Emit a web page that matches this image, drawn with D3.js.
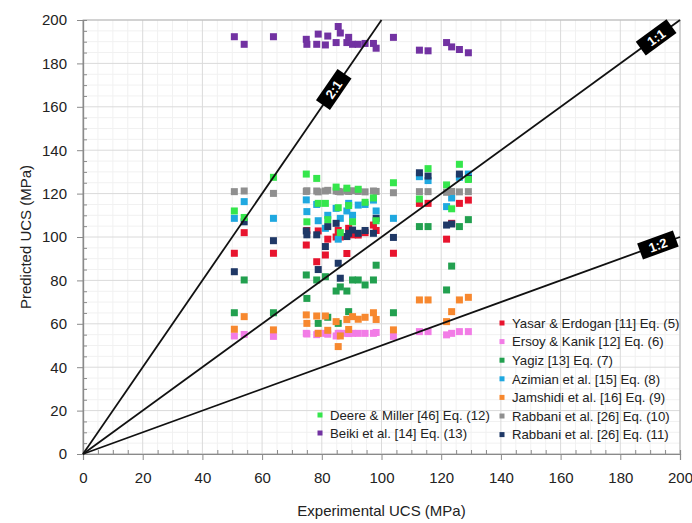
<!DOCTYPE html>
<html>
<head>
<meta charset="utf-8">
<script src="https://cdn.jsdelivr.net/npm/d3@7"></script>
<style>
  body { margin: 0; background: #fff; }
  svg { display: block; }
  text { font-family: "Liberation Sans", Arial, sans-serif; }
</style>
</head>
<body>
<svg id="chart" width="692" height="523"></svg>
<script>
// experimental UCS of the specimens (MPa)
var experimental = [50.7, 54.0, 63.8, 74.8, 75.0, 78.3, 78.8, 81.2, 82.0, 84.8, 85.5, 86.2, 88.4,
  89.0, 90.3, 92.2, 94.5, 97.3, 98.2, 104.0, 112.7, 115.6, 121.8, 123.5, 126.1, 129.1];

// predicted UCS per model, one value per specimen
var yasar    = [92.5, 102, 92.5, 96.3, 103, 88.6, 102.8, 91.7, 99, 100, 103, 100, 92.4,
  104, 101, 100.9, 102, 105.5, 103, 92.5, 115.5, 115.5, 99, 106.3, 115.5, 117];
var ersoy    = [54.4, 55.1, 54.2, 55.6, 55.3, 55, 55.6, 55.6, 55.2, 54.4, 55.6, 55.6, 55.6,
  55.5, 55.6, 55.6, 55.6, 55.6, 56, 54.2, 56.4, 56.4, 54.9, 55.6, 56.4, 56.4];
var yagiz    = [65.1, 80.2, 65.1, 82.5, 71.7, 80.2, 60.2, 81.7, 63, 75.1, 60.2, 77, 75.1,
  65.6, 80.2, 80.2, 77.9, 80.2, 87, 65.1, 104.8, 104.8, 75.6, 86.6, 104.8, 108];
var azimian  = [108.6, 116.3, 108.6, 117.1, 111.7, 115, 107.5, 104, 110, 113.2, 99, 108.6, 112,
  115.5, 110, 114.7, 115, 117, 112, 108.6, 127.8, 126, 114, 118, 127.5, 129];
var jamshidi = [57.5, 63.3, 57.2, 64.1, 60.2, 63.6, 55.6, 63.6, 57, 61, 49.5, 54.4, 62,
  57.4, 63.3, 62.1, 63, 65.1, 62, 57.2, 71, 71, 61, 65.6, 71, 72.2];
var rabbani10 = [120.9, 121.2, 120.1, 121, 121.3, 121.2, 120.8, 121.2, 121.5, 121.2, 121, 120.8, 121.2,
  121, 121.3, 121, 120.8, 121.2, 121, 120.4, 120.9, 120.9, 120.6, 121, 120.8, 120.9];
var rabbani11 = [84, 107, 98.3, 102.8, 101, 101, 85, 95.6, 104.8, 106.3, 87.9, 81, 100.2,
  101.7, 103.2, 101.7, 103, 101.7, 108.6, 99.8, 129.6, 128.1, 105.5, 106, 129, 127];
var deere    = [112, 109, 127.5, 129, 107, 127, 115.5, 115.5, 108, 123, 113.5, 102, 122.5,
  114.5, 107, 122, 116, 118, 107.5, 125, 117.5, 131.5, 124, 113, 133.5, 126.5];
var beiki    = [192.3, 188.8, 192.3, 191.1, 188.8, 188.8, 193.5, 188.5, 192.6, 189.6, 197, 194, 189.6,
  192, 188.8, 188.8, 189.2, 189.2, 187, 192, 186.1, 185.8, 189.6, 187.6, 186.4, 184.9];

var seriesNames = ["Yasar & Erdogan [11] Eq. (5)", "Ersoy & Kanik [12] Eq. (6)", "Yagiz [13] Eq. (7)",
  "Azimian et al. [15] Eq. (8)", "Jamshidi et al. [16] Eq. (9)", "Rabbani et al. [26] Eq. (10)",
  "Rabbani et al. [26] Eq. (11)", "Deere & Miller [46] Eq. (12)", "Beiki et al. [14] Eq. (13)"];
var seriesValues = [yasar, ersoy, yagiz, azimian, jamshidi, rabbani10, rabbani11, deere, beiki];
var seriesColors = ["#e8142e", "#f27ce6", "#22a04f", "#1fa8e0", "#f7882f", "#8f8f8f", "#1f3866", "#35e64c", "#7232a2"];

// reference lines: slope and label
var refSlopes = [2, 1, 0.5];
var refLabels = ["2:1", "1:1", "1:2"];
var refLabelX = [84, 192, 192.6];

var majorTicks = d3.range(0, 201, 20);
var minorTicks = d3.range(0, 201, 5).filter(function(d){ return d % 20 !== 0; });

var svg = d3.select("#chart");
var mLeft = 83, mRight = 680, mTop = 20, mBottom = 454;

var x = d3.scaleLinear().domain([0, 200]).range([mLeft, mRight]);
var y = d3.scaleLinear().domain([0, 200]).range([mBottom, mTop]);

// grid
var grid = svg.append("g").attr("class", "grid");
function vLines(ticks, color){
  grid.append("g").selectAll("line").data(ticks).enter().append("line")
    .attr("x1", function(d){ return x(d); }).attr("x2", function(d){ return x(d); })
    .attr("y1", mTop).attr("y2", mBottom)
    .style("stroke", color).style("stroke-width", 1);
}
function hLines(ticks, color){
  grid.append("g").selectAll("line").data(ticks).enter().append("line")
    .attr("y1", function(d){ return y(d); }).attr("y2", function(d){ return y(d); })
    .attr("x1", mLeft).attr("x2", mRight)
    .style("stroke", color).style("stroke-width", 1);
}
vLines(minorTicks, "#f1f1f1");
hLines(minorTicks, "#f1f1f1");
vLines(majorTicks, "#dadada");
hLines(majorTicks, "#dadada");

// frame
svg.append("rect")
  .attr("x", mLeft).attr("y", mTop).attr("width", mRight - mLeft).attr("height", mBottom - mTop)
  .style("fill", "none").style("stroke", "#b8b8b8").style("stroke-width", 1);

// points
var sq = 7;
seriesValues.forEach(function(vals, k){
  svg.append("g").selectAll("rect").data(vals).enter().append("rect")
    .attr("x", function(d, i){ return x(experimental[i]) - sq / 2; })
    .attr("y", function(d){ return y(d) - sq / 2; })
    .attr("width", sq).attr("height", sq)
    .style("fill", seriesColors[k]);
});

// axes
function styleAxis(g){
  g.select(".domain").style("stroke", "#8a8a8a").style("stroke-width", 1.2);
  g.selectAll(".tick line").style("stroke", "#8a8a8a");
  g.selectAll(".tick text").style("font-size", "15px").style("fill", "#222")
    .style("font-family", "'Liberation Sans', Arial, sans-serif");
}
svg.append("g").attr("transform", "translate(0," + mBottom + ")")
  .call(d3.axisBottom(x).tickValues(minorTicks).tickSize(-4).tickFormat(""))
  .call(styleAxis);
svg.append("g").attr("transform", "translate(" + mLeft + ",0)")
  .call(d3.axisLeft(y).tickValues(minorTicks).tickSize(-4).tickFormat(""))
  .call(styleAxis);
svg.append("g").attr("transform", "translate(0," + mBottom + ")")
  .call(d3.axisBottom(x).tickValues(majorTicks).tickSize(6).tickPadding(12))
  .call(styleAxis);
svg.append("g").attr("transform", "translate(" + mLeft + ",0)")
  .call(d3.axisLeft(y).tickValues(majorTicks).tickSize(6).tickPadding(10))
  .call(styleAxis);

// reference lines with labels
refSlopes.forEach(function(s, k){
  var xEnd = Math.min(200, 200 / s);
  svg.append("line")
    .attr("x1", x(0)).attr("y1", y(0))
    .attr("x2", x(xEnd)).attr("y2", y(xEnd * s))
    .style("stroke", "#111").style("stroke-width", 1.8);
  var px = x(refLabelX[k]), py = y(refLabelX[k] * s);
  var ang = Math.atan2(y(0) - y(s * 100), x(100) - x(0)) * 180 / Math.PI;
  var lab = svg.append("g").attr("transform", "translate(" + px + "," + py + ") rotate(" + (-ang) + ")");
  lab.append("rect").attr("x", -19).attr("y", -8.5).attr("width", 38).attr("height", 17).style("fill", "#000");
  lab.append("text").attr("text-anchor", "middle").attr("dy", "0.36em")
    .style("fill", "#fff").style("font-weight", "bold").style("font-size", "13px")
    .text(refLabels[k]);
});

// legends
var legRight = svg.append("g").attr("transform", "translate(502,323)");
seriesNames.slice(0, 7).forEach(function(n, i){
  var row = legRight.append("g").attr("transform", "translate(0," + (i * 18.6) + ")");
  row.append("rect").attr("x", -2.5).attr("y", -2.5).attr("width", 5).attr("height", 5).style("fill", seriesColors[i]);
  row.append("text").attr("x", 10).attr("dy", "0.36em").style("font-size", "13.2px").style("fill", "#222").text(n);
});
var legLeft = svg.append("g").attr("transform", "translate(320,415)");
seriesNames.slice(7).forEach(function(n, i){
  var row = legLeft.append("g").attr("transform", "translate(0," + (i * 18) + ")");
  row.append("rect").attr("x", -2.5).attr("y", -2.5).attr("width", 5).attr("height", 5).style("fill", seriesColors[i + 7]);
  row.append("text").attr("x", 10).attr("dy", "0.36em").style("font-size", "13.2px").style("fill", "#222").text(n);
});

// axis titles
svg.append("text").attr("x", (mLeft + mRight) / 2).attr("y", 516).attr("text-anchor", "middle")
  .style("font-size", "15px").style("fill", "#222").text("Experimental UCS (MPa)");
svg.append("text").attr("transform", "translate(31," + ((mTop + mBottom) / 2) + ") rotate(-90)")
  .attr("text-anchor", "middle").style("font-size", "15px").style("fill", "#222").text("Predicted UCS (MPa)");
</script>
</body>
</html>
